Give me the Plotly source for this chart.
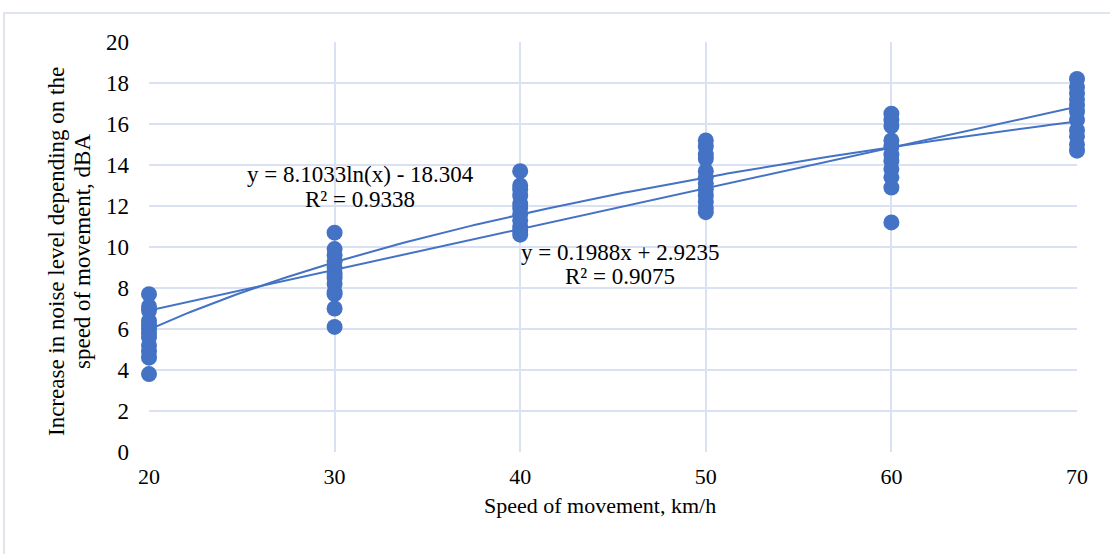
import numpy as np
import plotly.graph_objects as go

# Data
speeds = [20, 30, 40, 50, 60, 70]
noise_20 = [7.7, 7.1, 6.9, 6.4, 6.2, 6.0, 5.8, 5.6, 5.2, 4.9, 4.6, 3.8]
noise_30 = [10.7, 9.9, 9.6, 9.3, 9.0, 8.7, 8.5, 8.2, 7.8, 7.7, 7.0, 6.1]
noise_40 = [13.7, 13.0, 12.8, 12.5, 12.1, 11.9, 11.6, 11.3, 11.0, 10.8, 10.6]
noise_50 = [15.2, 14.9, 14.5, 14.3, 13.7, 13.4, 13.1, 12.8, 12.5, 12.2, 11.9, 11.7]
noise_60 = [16.5, 16.2, 15.9, 15.2, 14.9, 14.5, 14.2, 13.8, 13.4, 12.9, 11.2]
noise_70 = [18.2, 17.8, 17.5, 17.2, 16.9, 16.6, 16.2, 15.7, 15.4, 15.0, 14.7]

lin_slope, lin_icpt, lin_r2 = 0.1988, 2.9235, 0.9075
log_coef, log_icpt, log_r2 = 8.1033, -18.304, 0.9338

y_ticks = [0, 2, 4, 6, 8, 10, 12, 14, 16, 18, 20]

groups = [noise_20, noise_30, noise_40, noise_50, noise_60, noise_70]
xs, ys = [], []
for s, g in zip(speeds, groups):
    xs += [s] * len(g)
    ys += g

BLUE = "#4472C4"
FONT = "Liberation Serif"
FS = 23

# plot area in page pixels
L, R, T, B = 149, 1077, 42, 452
W, H = 1110, 554


def px(sx):
    return (sx - L) / (R - L)


def py(sy):
    return (B - sy) / (B - T)


fig = go.Figure()
fig.add_trace(go.Scatter(x=xs, y=ys, mode="markers",
                         marker=dict(color=BLUE, size=16, line=dict(width=0)),
                         cliponaxis=False, showlegend=False))

xl = np.linspace(speeds[0], speeds[-1], 200)
fig.add_trace(go.Scatter(x=xl, y=lin_slope * xl + lin_icpt, mode="lines",
                         line=dict(color=BLUE, width=2), showlegend=False))
fig.add_trace(go.Scatter(x=xl, y=log_coef * np.log(xl) + log_icpt, mode="lines",
                         line=dict(color=BLUE, width=2), showlegend=False))

font = dict(family=FONT, size=FS, color="black")


def label(text, sx, sy, angle=0, size=FS):
    fig.add_annotation(text=text, x=px(sx), y=py(sy), xref="paper", yref="paper",
                       xanchor="center", yanchor="middle", showarrow=False,
                       font=dict(family=FONT, size=size, color="black"),
                       textangle=angle)


label(f"y = {log_coef}ln(x) - {abs(log_icpt)}", 360, 175)
label(f"R² = {log_r2}", 360, 199)
label(f"y = {lin_slope}x + {lin_icpt}", 620, 252)
label(f"R² = {lin_r2}", 620, 276)

# axis titles
label("Speed of movement, km/h", 600, 505, size=22)
label("Increase in noise level depending on the", 56, 252, -90)
label("speed of movement, dBA", 82, 252, -90)

# outer border
fig.add_shape(type="rect", xref="paper", yref="paper",
              x0=px(4), x1=px(1114), y0=py(560), y1=py(13),
              line=dict(color="#D6DCE5", width=1.5), fillcolor="rgba(0,0,0,0)", layer="below")

fig.update_layout(
    width=W, height=H,
    margin=dict(l=L, r=W - R, t=T, b=H - B),
    paper_bgcolor="white", plot_bgcolor="white",
    font=font,
    xaxis=dict(range=[20, 70], tickvals=speeds, ticks="", showgrid=True,
               gridcolor="#D9E1F2", gridwidth=1.5, zeroline=False,
               showline=False, ticklabelstandoff=9, tickfont=dict(family=FONT, size=22)),
    yaxis=dict(range=[0, 20], tickvals=y_ticks, ticks="", showgrid=True,
               gridcolor="#D9E1F2", gridwidth=1.5, zeroline=False,
               showline=False, ticklabelstandoff=19, tickfont=font),
)

fig.write_html("out.html", config={"displayModeBar": False},
               post_script="document.body.style.margin='0';document.body.style.padding='0';")
